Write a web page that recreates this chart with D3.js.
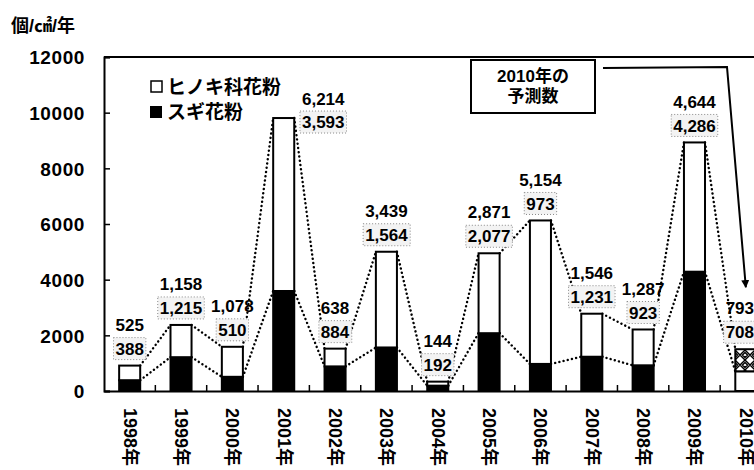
<!DOCTYPE html>
<html><head><meta charset="utf-8">
<script src="https://cdn.jsdelivr.net/npm/d3@7"></script>
<style>
body{margin:0;background:#fff;}
svg{display:block;font-family:"Liberation Sans","Noto Sans CJK JP",sans-serif;font-weight:bold;}
</style></head>
<body><svg id="c" width="754" height="470"></svg>
<script>
const years = ["1998年","1999年","2000年","2001年","2002年","2003年","2004年","2005年","2006年","2007年","2008年","2009年","2010年"];
const hinoki = [525,1158,1078,6214,638,3439,144,2871,5154,1546,1287,4644,793];
const sugi = [388,1215,510,3593,884,1564,192,2077,973,1231,923,4286,708];
const yTicks = [0,2000,4000,6000,8000,10000,12000];
const forecastYear = "2010年";
const legendLabels = ["ヒノキ科花粉","スギ花粉"];
const unitLabel = "個/㎠/年";
const noteLines = ["2010年の","予測数"];

const svg = d3.select("#c");
const fmt = d3.format(",");
const x = d3.scaleBand().domain(years).range([104, 771.5]).paddingInner(0.59).paddingOuter(0.295);
const y = d3.scaleLinear().domain([0,12000]).range([391,57]);
const step = x.step(), bw = x.bandwidth();

const defs = svg.append("defs");
const pat = defs.append("pattern").attr("id","hatch").attr("patternUnits","userSpaceOnUse")
  .attr("width",10).attr("height",10);
pat.append("rect").attr("width",10).attr("height",10).attr("fill","#fff");
pat.append("path").attr("d","M0,5 L5,0 L10,5 L5,10 Z M2.5,5 L5,2.5 L7.5,5 L5,7.5Z").attr("fill","none").attr("stroke","#000").attr("stroke-width",1.4);

// unit label
svg.append("text").attr("x",11).attr("y",32).attr("font-size",18).text(unitLabel);

// y axis
const yAxis = d3.axisLeft(y).tickValues(yTicks).tickSize(-6).tickPadding(19).tickFormat(d=>d);
const gy = svg.append("g").attr("transform","translate(104,0)").call(yAxis);
gy.select(".domain").attr("stroke","#000").attr("stroke-width",2);
gy.selectAll(".tick line").attr("stroke","#000").attr("stroke-width",1.5);
gy.selectAll(".tick text").attr("font-size",19).attr("letter-spacing",0.6).attr("fill","#000")
  .attr("font-family","Liberation Sans").attr("font-weight","bold").attr("dy","0.36em");

// top frame
svg.append("line").attr("x1",104).attr("x2",754).attr("y1",y(12000)).attr("y2",y(12000)).attr("stroke","#000").attr("stroke-width",2);

// x axis
const xAxis = d3.axisBottom(x).tickSize(0).tickFormat(d=>d);
const gx = svg.append("g").attr("transform",`translate(0,${y(0)})`).call(xAxis);
gx.select(".domain").attr("stroke","#000").attr("stroke-width",2);
gx.selectAll(".tick text").attr("font-size",18).attr("fill","#000").attr("font-weight","bold")
  .attr("font-family","Liberation Sans, Noto Sans CJK JP")
  .attr("text-anchor","start").attr("dy",null)
  .attr("transform","translate(-6,17) rotate(90)").attr("y",0).attr("x",0);
// inner ticks at band boundaries
svg.append("g").selectAll("line").data(years.slice(1)).join("line")
  .attr("x1",d=>x(d)-(step-bw)/2).attr("x2",d=>x(d)-(step-bw)/2)
  .attr("y1",y(0)).attr("y2",y(0)-6).attr("stroke","#000").attr("stroke-width",1.5);

// dotted connectors
const totals = years.map((d,i)=>hinoki[i]+sugi[i]);
function connector(vals){
  const pts=[];
  years.forEach((d,i)=>{ pts.push([x(d), y(vals[i])]); pts.push([x(d)+bw, y(vals[i])]); });
  const segs=[];
  for(let i=0;i<years.length-1;i++) segs.push([pts[2*i+1],pts[2*i+2]]);
  svg.append("g").selectAll("line").data(segs).join("line")
    .attr("x1",s=>s[0][0]).attr("y1",s=>s[0][1]).attr("x2",s=>s[1][0]).attr("y2",s=>s[1][1])
    .attr("stroke","#000").attr("stroke-width",2.4).attr("stroke-dasharray","0.1,4.2").attr("stroke-linecap","round");
}
connector(totals);
connector(sugi);

// bars
const bars = svg.append("g");
years.forEach((d,i)=>{
  const fc = d===forecastYear;
  bars.append("rect").attr("x",x(d)).attr("width",bw).attr("y",y(sugi[i])).attr("height",y(0)-y(sugi[i]))
    .attr("fill",fc?"#fff":"#000").attr("stroke","#000").attr("stroke-width",2);
  bars.append("rect").attr("x",x(d)).attr("width",bw).attr("y",y(totals[i])).attr("height",y(sugi[i])-y(totals[i]))
    .attr("fill",fc?"url(#hatch)":"#fff").attr("stroke","#000").attr("stroke-width",2);
});

// value labels
const lab = svg.append("g").attr("font-size",17);
years.forEach((d,i)=>{
  let cx = x(d)+bw/2, top = y(totals[i]);
  let y1 = top-41, y2 = top-17;
  if(d==="2001年"){ cx = x(d)+bw+29; y1 = top-19; y2 = top+4; }
  if(d===forecastYear){ cx -= 6; }
  lab.append("text").attr("x",cx).attr("y",y1).attr("dy","0.36em").attr("text-anchor","middle").text(fmt(hinoki[i]));
  const t = lab.append("text").attr("x",cx).attr("y",y2).attr("dy","0.36em").attr("text-anchor","middle").text(fmt(sugi[i]));
  const bb = t.node().getBBox();
  lab.insert("rect", function(){return t.node();}).attr("x",bb.x-2).attr("y",y2-11).attr("width",bb.width+4).attr("height",22)
    .attr("fill","#f3f3f3").attr("stroke","#888").attr("stroke-width",1).attr("stroke-dasharray","1,2");
});

// legend
const lg = svg.append("g");
lg.append("rect").attr("x",151).attr("y",81).attr("width",11).attr("height",11).attr("fill","#fff").attr("stroke","#000").attr("stroke-width",1.5);
lg.append("rect").attr("x",150).attr("y",106).attr("width",12).attr("height",12).attr("fill","#000");
lg.append("text").attr("x",167).attr("y",87).attr("dy","0.36em").attr("font-size",19).text(legendLabels[0]);
lg.append("text").attr("x",167).attr("y",112).attr("dy","0.36em").attr("font-size",19).text(legendLabels[1]);

// note box and arrow
svg.append("rect").attr("x",471).attr("y",60).attr("width",124).attr("height",53).attr("fill","#fff").attr("stroke","#000").attr("stroke-width",2);
svg.append("text").attr("x",533).attr("y",76).attr("dy","0.36em").attr("text-anchor","middle").attr("font-size",17).text(noteLines[0]);
svg.append("text").attr("x",533).attr("y",96).attr("dy","0.36em").attr("text-anchor","middle").attr("font-size",17).text(noteLines[1]);
defs.append("marker").attr("id","ah").attr("viewBox","0 0 10 10").attr("refX",9).attr("refY",5)
  .attr("markerWidth",4).attr("markerHeight",4).attr("orient","auto")
  .append("path").attr("d","M0,0 L10,5 L0,10 Z").attr("fill","#000");
const fx = x(forecastYear)+bw/2;
svg.append("polyline").attr("points",`603,68 727,67 ${fx},${y(totals[12])-62}`)
  .attr("fill","none").attr("stroke","#000").attr("stroke-width",2).attr("marker-end","url(#ah)");
</script></body></html>
